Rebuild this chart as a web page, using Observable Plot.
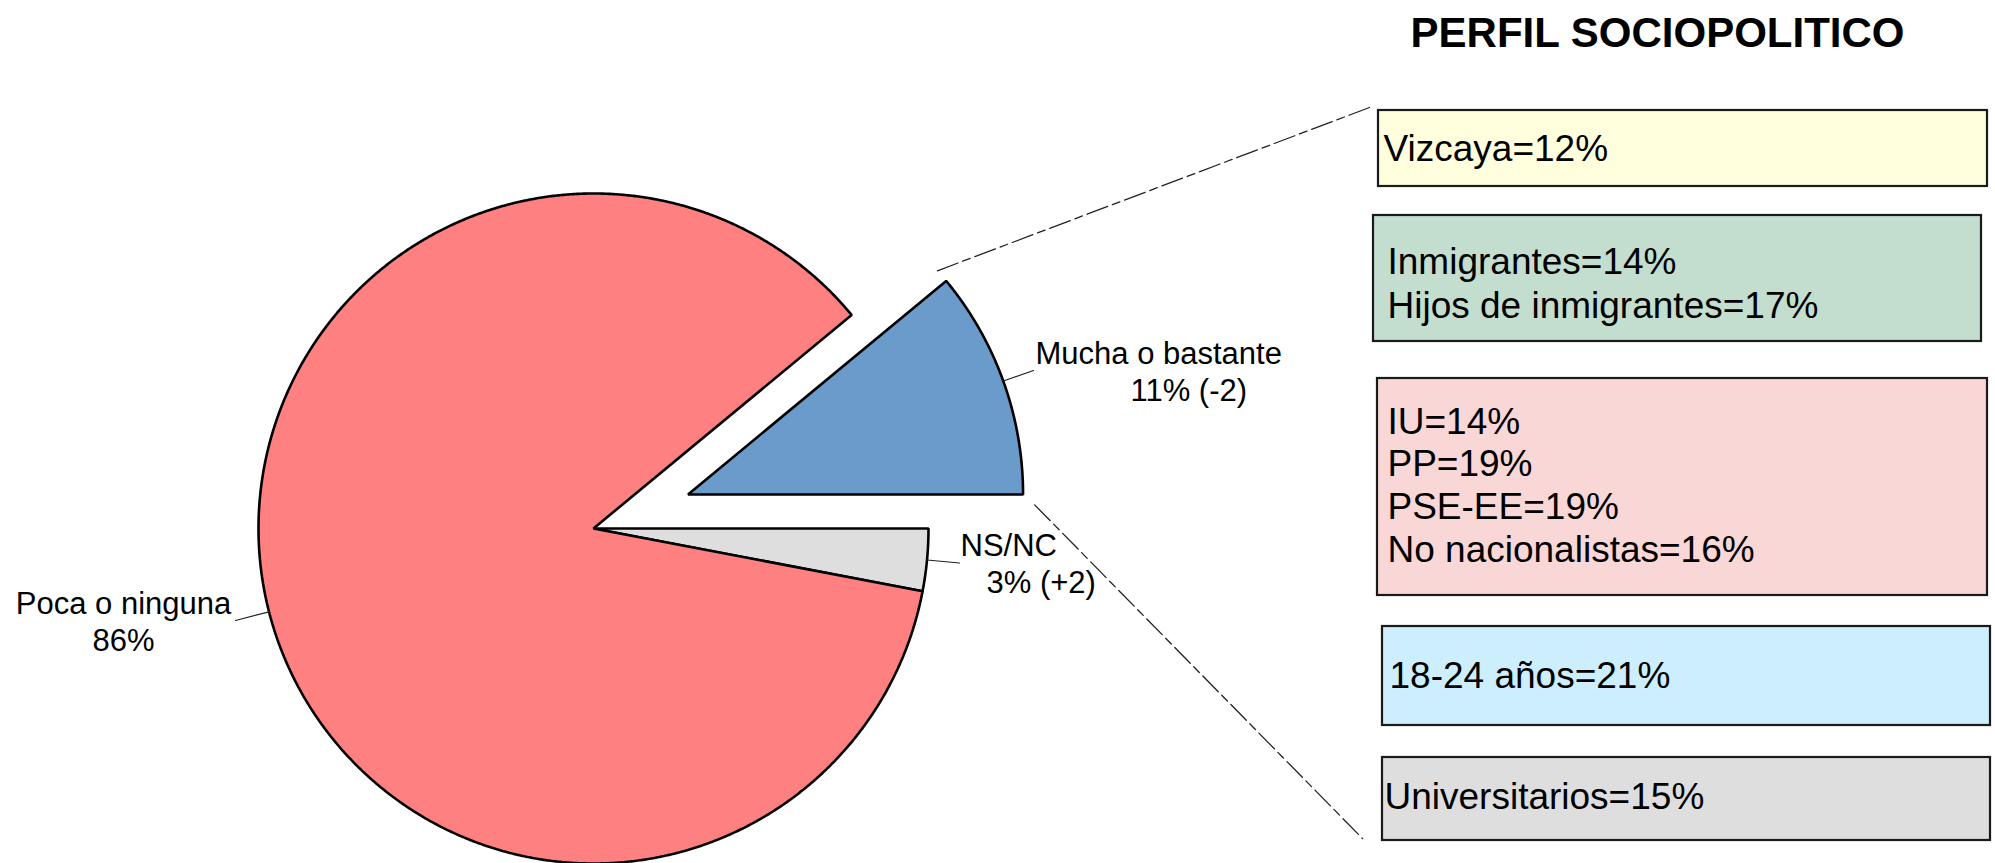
<!DOCTYPE html>
<html><head><meta charset="utf-8">
<script src="https://cdn.jsdelivr.net/npm/d3@7"></script>
<script src="https://cdn.jsdelivr.net/npm/@observablehq/plot@0.6"></script>
<style>body{margin:0;background:#fff}#chart svg{display:block}</style>
</head><body><div id="chart"></div>
<script>
// ---------- data ----------
const categories = ["Mucha o bastante", "Poca o ninguna", "NS/NC"];
const values = [11, 86, 3];
const changes = ["(-2)", "", "(+2)"];
const sliceColors = ["#6A9BCB", "#FF8080", "#DEDEDE"];

const title = "PERFIL SOCIOPOLITICO";
const profileLabels = ["Vizcaya", "Inmigrantes", "Hijos de inmigrantes", "IU", "PP", "PSE-EE", "No nacionalistas", "18-24 años", "Universitarios"];
const profileValues = [12, 14, 17, 14, 19, 19, 16, 21, 15];
const profileBox = [0, 1, 1, 2, 2, 2, 2, 3, 4];
const boxColors = ["#FFFFDD", "#C3DECE", "#F9D7D6", "#CDEEFD", "#DEDEDE"];

// ---------- layout ----------
const W = 1995, H = 863;
const pieL = {cx: 593, cy: 528, r: 335, explode: 0.3, exploded: "Mucha o bastante"};
const clockwiseOrder = ["NS/NC", "Poca o ninguna", "Mucha o bastante"];
const boxes = [
  {x1: 1378, x2: 1987, y1: 110, y2: 186, tx: 1383, ty: [160]},
  {x1: 1373, x2: 1981, y1: 215, y2: 341, tx: 1387, ty: [273, 317]},
  {x1: 1377, x2: 1987, y1: 378, y2: 595, tx: 1387, ty: [433, 475, 518, 561]},
  {x1: 1382, x2: 1990, y1: 626, y2: 725, tx: 1389, ty: [687]},
  {x1: 1382, x2: 1990, y1: 757, y2: 840, tx: 1384, ty: [808]}
];
const labelLayout = {
  "Mucha o bastante": {lx: 1033, ly: 370, lines: [{x: 1035, y: 363, a: "start"}, {x: 1130, y: 400, a: "start"}]},
  "Poca o ninguna": {lx: 235, ly: 620, lines: [{x: 123, y: 613, a: "middle"}, {x: 123, y: 650, a: "middle"}]},
  "NS/NC": {lx: 959, ly: 562.5, lines: [{x: 960, y: 555, a: "start"}, {x: 986, y: 592, a: "start"}]}
};
const connectorEnds = [{x: 1369, y: 107}, {x: 1362, y: 838}];

// ---------- geometry from data ----------
const slices = clockwiseOrder.map(c => {
  const i = categories.indexOf(c);
  return {name: c, value: values[i], change: changes[i], color: sliceColors[i]};
});
const arcs = d3.pie().sort(null).value(d => d.value)
  .startAngle(Math.PI / 2).endAngle(Math.PI / 2 + 2 * Math.PI)(slices);

const pt = (cx, cy, r, a) => ({x: cx + r * Math.sin(a), y: cy - r * Math.cos(a)});
const polys = [];
const leaders = [];
const labelTexts = [];
let connectors = [];
for (const a of arcs) {
  const d = a.data;
  const mid = (a.startAngle + a.endAngle) / 2;
  const off = d.name === pieL.exploded ? pieL.explode * pieL.r : 0;
  const cx = pieL.cx + off * Math.sin(mid), cy = pieL.cy - off * Math.cos(mid);
  polys.push({name: d.name, color: d.color, x: cx, y: cy});
  const n = Math.max(2, Math.ceil((a.endAngle - a.startAngle) / 0.005));
  for (let k = 0; k <= n; k++) {
    const p = pt(cx, cy, pieL.r, a.startAngle + (a.endAngle - a.startAngle) * k / n);
    polys.push({name: d.name, color: d.color, x: p.x, y: p.y});
  }
  const m = pt(cx, cy, pieL.r, mid);
  const L = labelLayout[d.name];
  leaders.push({name: d.name, x: m.x, y: m.y}, {name: d.name, x: L.lx, y: L.ly});
  const lines = [d.name, `${d.value}%${d.change ? " " + d.change : ""}`];
  lines.forEach((t, k) => labelTexts.push({text: t, x: L.lines[k].x, y: L.lines[k].y, anchor: L.lines[k].a}));
  if (d.name === pieL.exploded) {
    const s0 = pt(cx, cy, pieL.r, a.startAngle - 0.04);
    const s1 = pt(cx, cy, pieL.r * 1.035, a.endAngle + 0.03);
    connectors = [
      {id: 0, x: s0.x, y: s0.y}, {id: 0, x: connectorEnds[0].x, y: connectorEnds[0].y},
      {id: 1, x: s1.x, y: s1.y}, {id: 1, x: connectorEnds[1].x, y: connectorEnds[1].y}
    ];
  }
}

const boxData = boxes.map((b, i) => ({...b, fill: boxColors[i]}));
const profileTexts = [];
const lineCount = boxes.map(() => 0);
profileLabels.forEach((lab, i) => {
  const b = profileBox[i];
  const k = lineCount[b]++;
  profileTexts.push({text: `${lab}=${profileValues[i]}%`, x: boxes[b].tx, y: boxes[b].ty[k]});
});

const font = "'Liberation Sans', Arial, Helvetica, sans-serif";
const chart = Plot.plot({
  width: W, height: H,
  margin: 0,
  x: {domain: [0, W], range: [0, W], axis: null},
  y: {domain: [0, H], range: [0, H], axis: null},
  color: {type: "identity"},
  style: {fontFamily: font, background: "white", color: "black"},
  marks: [
    Plot.line(polys, {x: "x", y: "y", z: "name", fill: "color", stroke: "black", strokeWidth: 2.6, curve: "linear-closed", strokeLinejoin: "miter"}),
    Plot.line(leaders, {x: "x", y: "y", z: "name", stroke: "#222", strokeWidth: 1.2}),
    Plot.line(connectors, {x: "x", y: "y", z: "id", stroke: "#222", strokeWidth: 1.3, strokeDasharray: "22,5,8,5"}),
    Plot.rect(boxData, {x1: "x1", x2: "x2", y1: "y1", y2: "y2", fill: "fill", stroke: "#1a1a1a", strokeWidth: 2.2}),
    Plot.text(labelTexts.filter(d => d.anchor === "start"), {x: "x", y: "y", text: "text", textAnchor: "start", lineAnchor: "bottom", fontSize: 31, fill: "black"}),
    Plot.text(labelTexts.filter(d => d.anchor === "middle"), {x: "x", y: "y", text: "text", textAnchor: "middle", lineAnchor: "bottom", fontSize: 31, fill: "black"}),
    Plot.text(profileTexts, {x: "x", y: "y", text: "text", textAnchor: "start", lineAnchor: "bottom", fontSize: 37, fill: "black"}),
    Plot.text([title], {x: 1657, y: 46, text: d => d, textAnchor: "middle", lineAnchor: "bottom", fontSize: 42, fontWeight: "bold", fill: "black"})
  ]
});
document.getElementById("chart").appendChild(chart);
</script>
</body></html>
